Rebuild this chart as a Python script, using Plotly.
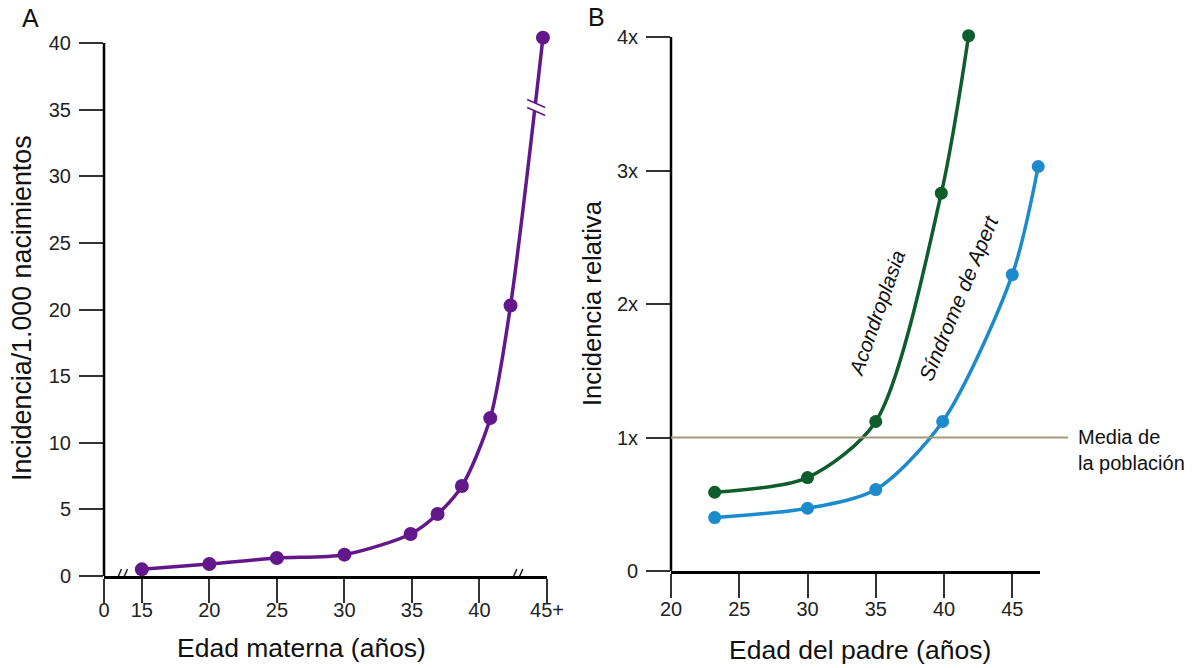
import plotly.graph_objects as go

# ---------------- data ----------------
maternal_age = [15, 20, 25, 30, 34.9, 36.9, 38.7, 40.8, 42.3, 44.7]
incidence_per_1000 = [0.5, 0.9, 1.35, 1.6, 3.15, 4.65, 6.75, 11.85, 20.3, 40.4]
a_xtick_vals = [12.2, 15, 20, 25, 30, 35, 40, 45]
a_xtick_text = ["0", "15", "20", "25", "30", "35", "40", "45+"]
a_ytick_vals = [0, 5, 10, 15, 20, 25, 30, 35, 40]

achon_age = [23.2, 30, 35, 39.8, 41.8]
achon_rel = [0.59, 0.70, 1.12, 2.83, 4.01]
apert_age = [23.2, 30, 35, 39.9, 45, 46.9]
apert_rel = [0.40, 0.47, 0.61, 1.12, 2.22, 3.03]
b_xtick_vals = [20, 25, 30, 35, 40, 45]
b_ytick_vals = [0, 1, 2, 3, 4]
b_ytick_text = ["0", "1x", "2x", "3x", "4x"]
population_mean = 1

PURPLE = "#62188a"
GREEN = "#0f5c2c"
BLUE = "#1b8bcb"
TAN = "#a8987a"
FONT = "Liberation Sans, Arial, Helvetica, sans-serif"

W, H = 1197, 668
def px(x):
    return x / W
def py(y):
    return 1 - y / H

# pixel scales of the two panels
A_X0, A_PX_PER_X = 104, 13.5     # x=12.2 at 104 px
A_Y0, A_PX_PER_Y = 576, 13.325
B_Y0, B_PX_PER_Y = 571, 133.5
A_YMAX = 41.0
B_YMAX = 4.1

fig = go.Figure()

fig.add_trace(go.Scatter(
    x=maternal_age, y=incidence_per_1000, mode="lines+markers",
    line=dict(color=PURPLE, width=3.5, shape="spline", smoothing=0.8),
    marker=dict(color=PURPLE, size=14), cliponaxis=False,
    xaxis="x", yaxis="y", showlegend=False))

fig.add_trace(go.Scatter(
    x=achon_age, y=achon_rel, mode="lines+markers",
    line=dict(color=GREEN, width=3.5, shape="spline", smoothing=0.8),
    marker=dict(color=GREEN, size=13), cliponaxis=False,
    xaxis="x2", yaxis="y2", showlegend=False))

fig.add_trace(go.Scatter(
    x=apert_age, y=apert_rel, mode="lines+markers",
    line=dict(color=BLUE, width=3.5, shape="spline", smoothing=0.8),
    marker=dict(color=BLUE, size=13), cliponaxis=False,
    xaxis="x2", yaxis="y2", showlegend=False))

axis_common = dict(linecolor="black", linewidth=2.5,
                   ticks="outside", ticklen=24, tickwidth=1.5, tickcolor="#333",
                   showgrid=False, zeroline=False, automargin=False,
                   tickfont=dict(family=FONT, size=20, color="#222"))

fig.update_layout(
    width=W, height=H, margin=dict(l=0, r=0, t=0, b=0, autoexpand=False),
    paper_bgcolor="white", plot_bgcolor="white",
    xaxis=dict(domain=[px(104), px(547)], range=[12.2, 45], anchor="y",
               showline=True, ticklabelstandoff=-10,
               tickvals=a_xtick_vals, ticktext=a_xtick_text, **axis_common),
    yaxis=dict(domain=[py(A_Y0), py(A_Y0 - A_YMAX * A_PX_PER_Y)], range=[0, A_YMAX],
               anchor="x", showline=False, ticklabelstandoff=4,
               tickvals=a_ytick_vals, **axis_common),
    xaxis2=dict(domain=[px(671), px(1040)], range=[20, 47.03], anchor="y2",
                showline=True, ticklabelstandoff=-6,
                tickvals=b_xtick_vals, **axis_common),
    yaxis2=dict(domain=[py(B_Y0), py(B_Y0 - B_YMAX * B_PX_PER_Y)], range=[0, B_YMAX],
                anchor="x2", showline=False, ticklabelstandoff=4,
                tickvals=b_ytick_vals, ticktext=b_ytick_text, **axis_common),
)

# vertical axis lines (end at the top tick, as in the reference)
fig.add_shape(type="line", xref="x domain", yref="y", x0=0, x1=0,
              y0=0, y1=max(a_ytick_vals), layer="above",
              line=dict(color="black", width=2.5))
fig.add_shape(type="line", xref="x2 domain", yref="y2", x0=0, x1=0,
              y0=0, y1=max(b_ytick_vals), layer="above",
              line=dict(color="black", width=2.5))

# population mean line
fig.add_shape(type="line", xref="paper", yref="y2",
              x0=px(671), x1=px(1068), y0=population_mean, y1=population_mean,
              line=dict(color=TAN, width=2))

# axis break marks on x axis of panel A
ux = 1 / A_PX_PER_X
uy = 1 / A_PX_PER_Y
for bx in [13.53, 42.8]:
    fig.add_shape(type="path", xref="x", yref="y", layer="above",
                  path=(f"M{bx-6*ux},{-7*uy} L{bx-0*ux},{7*uy} "
                        f"L{bx+4*ux},{7*uy} L{bx-2*ux},{-7*uy} Z"),
                  fillcolor="white", line=dict(width=0))
    for off in [-3.5, 2.5]:
        fig.add_shape(type="line", xref="x", yref="y", layer="above",
                      x0=bx + (off - 3) * ux, y0=-7 * uy,
                      x1=bx + (off + 3) * ux, y1=7 * uy,
                      line=dict(color="#222", width=1.5))

# break mark on the purple curve
cx, cy = 12.2 + (536 - A_X0) * ux, (A_Y0 - 108) * uy
fig.add_shape(type="path", xref="x", yref="y", layer="above",
              path=(f"M{cx-9*ux},{cy+8*uy} L{cx+9*ux},{cy+0*uy} "
                    f"L{cx+9*ux},{cy-7*uy} L{cx-9*ux},{cy+1*uy} Z"),
              fillcolor="white", line=dict(width=0))
for off in [4.5, -3.5]:
    fig.add_shape(type="line", xref="x", yref="y", layer="above",
                  x0=cx - 9 * ux, y0=cy + (off + 4) * uy,
                  x1=cx + 9 * ux, y1=cy + (off - 4) * uy,
                  line=dict(color=PURPLE, width=1.5))

def ann(text, x, y, size, angle=0, italic=False):
    return dict(text=f"<i>{text}</i>" if italic else text, x=px(x), y=py(y),
                xref="paper", yref="paper", xanchor="center", yanchor="middle",
                showarrow=False, textangle=angle,
                font=dict(family=FONT, size=size, color="#111"))

annotations = [
    ann("A", 30, 18, 25),
    ann("B", 596, 17, 25),
    ann("Incidencia/1.000 nacimientos", 22, 308, 26.8, -90),
    ann("Edad materna (años)", 301, 648, 26.5),
    ann("Incidencia relativa", 592, 303, 25.6, -90),
    ann("Edad del padre (años)", 860, 650, 26.5),
    ann("Acondroplasia", 876, 313, 20.5, -70.5, True),
    ann("Síndrome de Apert", 958, 298, 21, -67.7, True),
    dict(text="Media de<br>la población", x=px(1076), y=population_mean,
         xref="paper", yref="y2", xanchor="left", yanchor="middle", yshift=-12,
         align="left", showarrow=False,
         font=dict(family=FONT, size=20, color="#111")),
]
fig.update_layout(annotations=annotations)

fig.write_html("out.html", config={"displayModeBar": False},
               post_script="document.body.style.margin='0';document.body.style.padding='0';")
